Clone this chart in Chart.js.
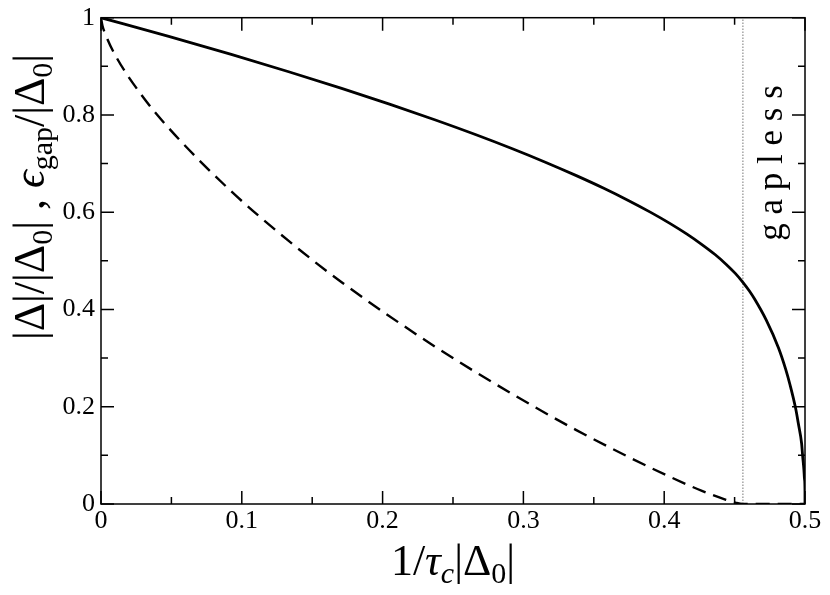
<!DOCTYPE html>
<html>
<head>
<meta charset="utf-8">
<script src="https://cdn.jsdelivr.net/npm/chart.js@4"></script>
<style>
html,body{margin:0;padding:0;background:#fff;}
#wrap{width:830px;height:595px;position:relative;}
</style>
</head>
<body>
<div id="wrap"><canvas id="c" width="830" height="595"></canvas></div>
<script>
// |Δ|/|Δ0| (solid)
const solidX = [0, 0.0481, 0.0925, 0.1333, 0.1709, 0.2054, 0.2370, 0.2659, 0.2922, 0.3160, 0.3376, 0.3571, 0.3745, 0.3901, 0.4040, 0.4162, 0.4268, 0.4361, 0.4439, 0.4505, 0.4559, 0.4604, 0.4641, 0.4725, 0.4812, 0.4862, 0.4894, 0.4933, 0.4953, 0.4976, 0.4983, 0.4992, 0.4997, 0.49999, 0.5];
const solidY = [1, 0.9615, 0.9245, 0.8889, 0.8546, 0.8217, 0.7901, 0.7597, 0.7304, 0.7023, 0.6752, 0.6492, 0.6242, 0.6002, 0.5771, 0.5549, 0.5335, 0.5130, 0.4932, 0.4742, 0.4559, 0.4385, 0.4219, 0.3780, 0.3208, 0.2778, 0.2447, 0.1973, 0.1651, 0.1244, 0.0997, 0.0713, 0.0500, 0.0250, 0];
// ε_gap/|Δ0| (dashed)
const dashX = [0, 0.001, 0.003, 0.0099, 0.0293, 0.0481, 0.0925, 0.1333, 0.1709, 0.2370, 0.2922, 0.3376, 0.3745, 0.4040, 0.4268, 0.4439, 0.4505, 0.4559, 0.5];
const dashY = [1, 0.984, 0.967, 0.924, 0.839, 0.773, 0.643, 0.541, 0.456, 0.324, 0.226, 0.152, 0.097, 0.056, 0.027, 0.0087, 0.0029, 0, 0];
// onset of gapless region (dotted)
const gaplessX = [0.4559, 0.4559];
const gaplessY = [0, 1];
const gaplessLabel = "g a p l e s s";
// ticks
const xMajor = [0, 0.1, 0.2, 0.3, 0.4, 0.5];
const xMinor = [0.05, 0.15, 0.25, 0.35, 0.45];
const yMajor = [0, 0.2, 0.4, 0.6, 0.8, 1];
const yMinor = [0.1, 0.3, 0.5, 0.7, 0.9];
const xTickLabels = ['0', '0.1', '0.2', '0.3', '0.4', '0.5'];
const yTickLabels = ['0', '0.2', '0.4', '0.6', '0.8', '1'];

const SERIF = "'Liberation Serif', 'Times New Roman', serif";
const pts = (xs, ys) => xs.map((x, i) => ({x: x, y: ys[i]}));

function drawRich(ctx, segs) {
  let widths = segs.map(s => {
    ctx.font = (s.italic ? 'italic ' : '') + s.size + 'px ' + SERIF;
    return ctx.measureText(s.t).width;
  });
  let total = widths.reduce((a, b) => a + b, 0);
  let x = -total / 2;
  ctx.textAlign = 'left';
  ctx.textBaseline = 'alphabetic';
  segs.forEach((s, i) => {
    ctx.font = (s.italic ? 'italic ' : '') + s.size + 'px ' + SERIF;
    ctx.fillText(s.t, x, s.dy || 0);
    x += widths[i];
  });
}

const decor = {
  id: 'decor',
  afterDatasetsDraw(chart) {
    const ctx = chart.ctx, a = chart.chartArea;
    const xs = chart.scales.x, ys = chart.scales.y;
    ctx.save();
    ctx.strokeStyle = '#000';
    ctx.lineWidth = 1.5;
    ctx.strokeRect(a.left, a.top, a.right - a.left, a.bottom - a.top);
    ctx.beginPath();
    const tick = (vals, len) => {
      vals.forEach(v => {
        const px = xs.getPixelForValue(v);
        ctx.moveTo(px, a.bottom); ctx.lineTo(px, a.bottom - len);
        ctx.moveTo(px, a.top); ctx.lineTo(px, a.top + len);
      });
    };
    const ticky = (vals, len) => {
      vals.forEach(v => {
        const py = ys.getPixelForValue(v);
        ctx.moveTo(a.left, py); ctx.lineTo(a.left + len, py);
        ctx.moveTo(a.right, py); ctx.lineTo(a.right - len, py);
      });
    };
    tick(xMajor, 13); tick(xMinor, 7);
    ticky(yMajor, 13); ticky(yMinor, 7);
    ctx.stroke();

    ctx.fillStyle = '#000';
    // x title
    ctx.save();
    ctx.translate((a.left + a.right) / 2, 575);
    drawRich(ctx, [
      {t: '1/', size: 44},
      {t: 'τ', size: 44, italic: true},
      {t: 'c', size: 30, italic: true, dy: 8},
      {t: '|Δ', size: 44},
      {t: '0', size: 30, dy: 8},
      {t: '|', size: 44}
    ]);
    ctx.restore();
    // y title
    ctx.save();
    ctx.translate(44, 197);
    ctx.rotate(-Math.PI / 2);
    drawRich(ctx, [
      {t: '|Δ|/|Δ', size: 44},
      {t: '0', size: 30, dy: 8},
      {t: '| , ', size: 44},
      {t: 'ϵ', size: 44, italic: true},
      {t: 'gap', size: 30, dy: 8},
      {t: '/|Δ', size: 44},
      {t: '0', size: 30, dy: 8},
      {t: '|', size: 44}
    ]);
    ctx.restore();
    // gapless label
    ctx.save();
    ctx.translate(773, 163);
    ctx.rotate(-Math.PI / 2);
    ctx.font = '35px ' + SERIF;
    ctx.textAlign = 'center';
    ctx.textBaseline = 'middle';
    ctx.fillText(gaplessLabel, 0, 0);
    ctx.restore();
    ctx.restore();
  }
};

function makeChart() {
  new Chart(document.getElementById('c'), {
    type: 'scatter',
    data: {
      datasets: [
        {data: pts(solidX, solidY), showLine: true, borderColor: '#000', borderWidth: 2.8, pointRadius: 0, cubicInterpolationMode: 'monotone'},
        {data: pts(dashX, dashY), showLine: true, borderColor: '#000', borderWidth: 2.4, borderDash: [14, 8], pointRadius: 0, cubicInterpolationMode: 'monotone'},
        {data: pts(gaplessX, gaplessY), showLine: true, borderColor: '#777', borderWidth: 1, borderDash: [1.5, 1.5], pointRadius: 0}
      ]
    },
    options: {
      responsive: false,
      animation: false,
      events: [],
      layout: {padding: {top: 12, right: 25, left: 0, bottom: 0}},
      plugins: {legend: {display: false}, tooltip: {enabled: false}},
      scales: {
        x: {
          type: 'linear', min: 0, max: 0.5,
          grid: {display: false, drawTicks: false},
          border: {display: false},
          afterFit: s => { s.height = 91; },
          afterBuildTicks: s => { s.ticks = xMajor.map(v => ({value: v})); },
          ticks: {color: '#000', padding: 5, maxRotation: 0, font: {family: SERIF, size: 26, lineHeight: 0.9},
                  callback: (v, i) => xTickLabels[i]}
        },
        y: {
          type: 'linear', min: 0, max: 1,
          grid: {display: false, drawTicks: false},
          border: {display: false},
          afterFit: s => { s.width = 101; },
          afterBuildTicks: s => { s.ticks = yMajor.map(v => ({value: v})); },
          ticks: {color: '#000', padding: 6, font: {family: SERIF, size: 26, lineHeight: 0.9},
                  callback: (v, i) => yTickLabels[i]}
        }
      }
    },
    plugins: [decor]
  });
}

const fontLoads = [
  document.fonts.load("24px 'Liberation Serif'"),
  document.fonts.load("italic 24px 'Liberation Serif'")
];
Promise.all(fontLoads).then(makeChart, makeChart);
</script>
</body>
</html>
